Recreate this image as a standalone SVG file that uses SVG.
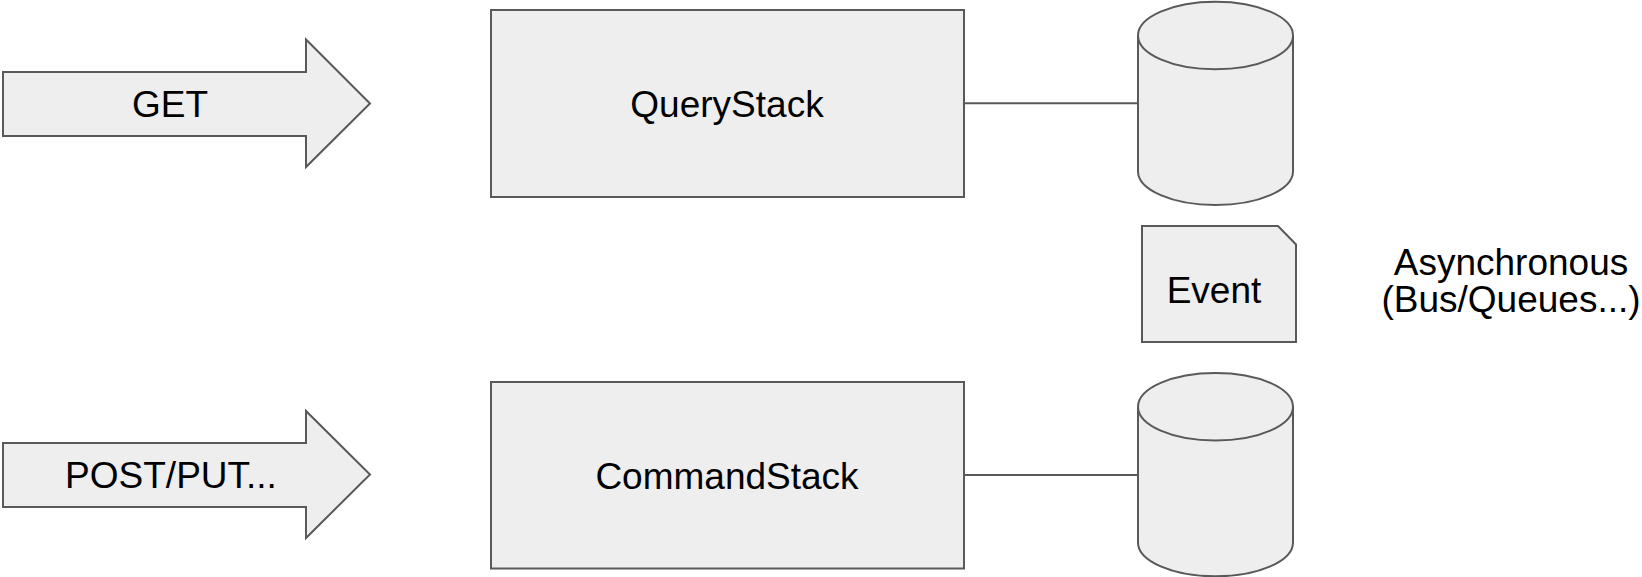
<svg xmlns="http://www.w3.org/2000/svg" width="1642" height="577" viewBox="0 0 1642 577">
<style>
.s{fill:#eeeeee;stroke:#595959;stroke-width:2;stroke-linejoin:miter}
.t{font-family:"Liberation Sans",Arial,sans-serif;font-size:37px;fill:#000;text-anchor:middle}
.c{fill:none;stroke:#595959;stroke-width:2}
</style>
<rect width="1642" height="577" fill="#ffffff"/>
<g id="get">
<path class="s" d="M3,72 H306 V39.5 L370,103.5 L306,167 V136 H3 Z"/>
<text class="t" x="170" y="117">GET</text>
</g>
<g id="postput">
<path class="s" d="M3,443 H306 V411 L370,474.5 L306,538 V507 H3 Z"/>
<text class="t" x="171" y="488">POST/PUT...</text>
</g>
<g id="querystack">
<rect class="s" x="491" y="10" width="473" height="187"/>
<text class="t" x="727" y="117">QueryStack</text>
</g>
<g id="commandstack">
<rect class="s" x="491" y="382" width="473" height="186.5"/>
<text class="t" x="727" y="489">CommandStack</text>
</g>
<g id="db-query">
<path class="s" d="M1138,35.5 V171.2 A77.5,33.8 0 0 0 1293,171.2 V35.5 A77.5,33.8 0 0 0 1138,35.5 Z"/>
<path class="c" d="M1138,35.5 A77.5,33.8 0 0 0 1293,35.5"/>
</g>
<g id="db-command">
<path class="s" d="M1138,406.7 V542.5 A77.5,33.8 0 0 0 1293,542.5 V406.7 A77.5,33.8 0 0 0 1138,406.7 Z"/>
<path class="c" d="M1138,406.7 A77.5,33.8 0 0 0 1293,406.7"/>
</g>
<g id="event">
<path class="s" d="M1142,226 H1278 L1296,244.5 V342 H1142 Z"/>
<text class="t" x="1214" y="303">Event</text>
</g>
<g id="async">
<text class="t" x="1511" y="274.5">Asynchronous</text>
<text class="t" x="1511" y="312">(Bus/Queues...)</text>
</g>
<g id="connectors">
<line class="c" x1="964" y1="103.3" x2="1138" y2="103.3"/>
<line class="c" x1="964" y1="475" x2="1138" y2="475"/>
</g>
</svg>
